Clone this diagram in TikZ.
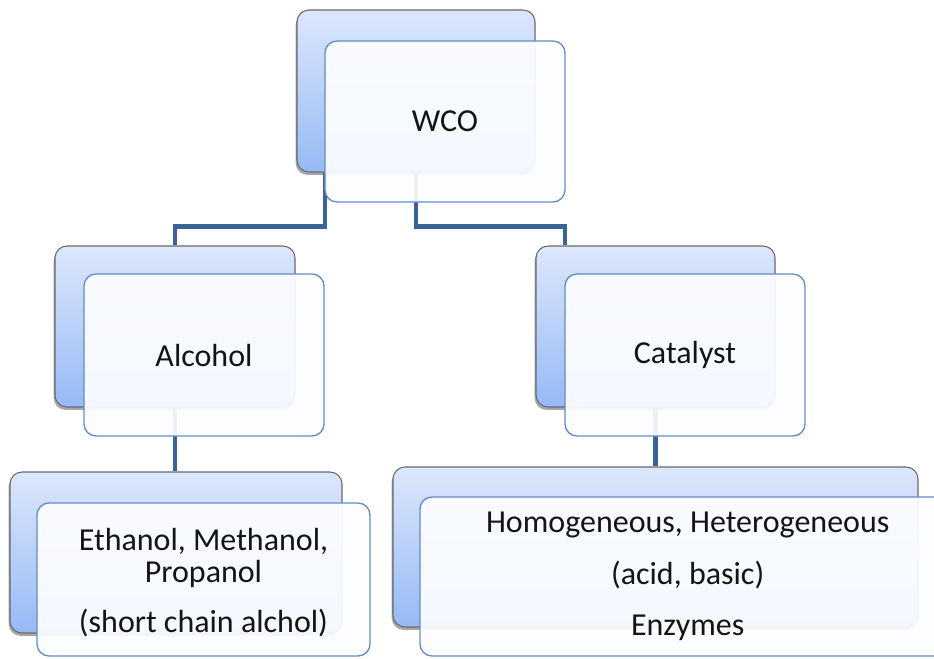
\documentclass[tikz,border=0pt]{standalone}
\usepackage{fontspec}
\setmainfont{Carlito}
\usetikzlibrary{fit,shadows}
\definecolor{backtop}{RGB}{220,231,251}
\definecolor{backbot}{RGB}{150,186,245}
\definecolor{backedge}{RGB}{105,105,110}
\definecolor{frontedge}{RGB}{98,140,198}
\definecolor{frontfill}{RGB}{252,253,255}
\definecolor{conncol}{RGB}{58,100,150}
\definecolor{txtcol}{RGB}{20,20,20}
\tikzset{
  backbox/.style={inner sep=0pt, rounded corners=9pt, draw=backedge, line width=0.8pt,
    top color=backtop, bottom color=backbot,
    drop shadow={shadow xshift=-1pt, shadow yshift=-2.2pt, opacity=0.35, fill=black}},
  frontbox/.style={inner sep=0pt, rounded corners=9pt, draw=frontedge, line width=1pt,
    fill=frontfill, fill opacity=0.93, draw opacity=1},
  conn/.style={draw=conncol, line width=3.3pt},
  lbl/.style={text=txtcol, font=\fontsize{24}{24}\selectfont, align=center, inner sep=0pt}
}
\begin{document}
\begin{tikzpicture}[x=0.75pt,y=-0.75pt]
\useasboundingbox (0,0) rectangle (934,658);
\clip (0,0) rectangle (934,658);
% back boxes
\node[backbox, fit={(297,10) (535,172)}] (wcoB) {};
\node[backbox, fit={(55,246) (295,407)}] (alcB) {};
\node[backbox, fit={(536,246) (775,407)}] (catB) {};
\node[backbox, fit={(10,472) (342,633)}] (blB) {};
\node[backbox, fit={(393,467) (918,627)}] (brB) {};
% corner points of front boxes
\path (325,41) coordinate (wcoFnw) (565,202) coordinate (wcoFse);
\path (565,274) coordinate (catFnw);
% connectors
\draw[conn] (wcoB.south -| wcoFnw) -- ++(0,54) -| (alcB.north);
\draw[conn] (wcoB.south) -- ++(0,54) -| (catB.north -| catFnw);
\draw[conn] (alcB.south) -- (blB.north -| alcB.south);
\draw[conn] (catB.south) -- (brB.north -| catB.south);
% front boxes
\node[frontbox, fit={(wcoFnw) (wcoFse)}] (wcoF) {};
\node[frontbox, fit={(84,274) (324,436)}] (alcF) {};
\node[frontbox, fit={(catFnw) (805,436)}] (catF) {};
\node[frontbox, fit={(37,503) (370,656)}] (blF) {};
\node[frontbox, fit={(420,497) (950,656)}] (brF) {};
% labels
\node[lbl] (wcoT) at (wcoF.center) {WCO};
\node[lbl] (alcT) at (alcF.center) {Alcohol};
\node[lbl] (catT) at (catF.center) {Catalyst};
\node[lbl] (blT) at ([yshift=-2]blF.center) {Ethanol, Methanol,\\Propanol\\[13.5pt](short chain alchol)};
\node[lbl] (brT) at ([xshift=2]brF.center) {Homogeneous, Heterogeneous\\[14.5pt](acid, basic)\\[14.5pt]Enzymes};
\end{tikzpicture}
\end{document}
